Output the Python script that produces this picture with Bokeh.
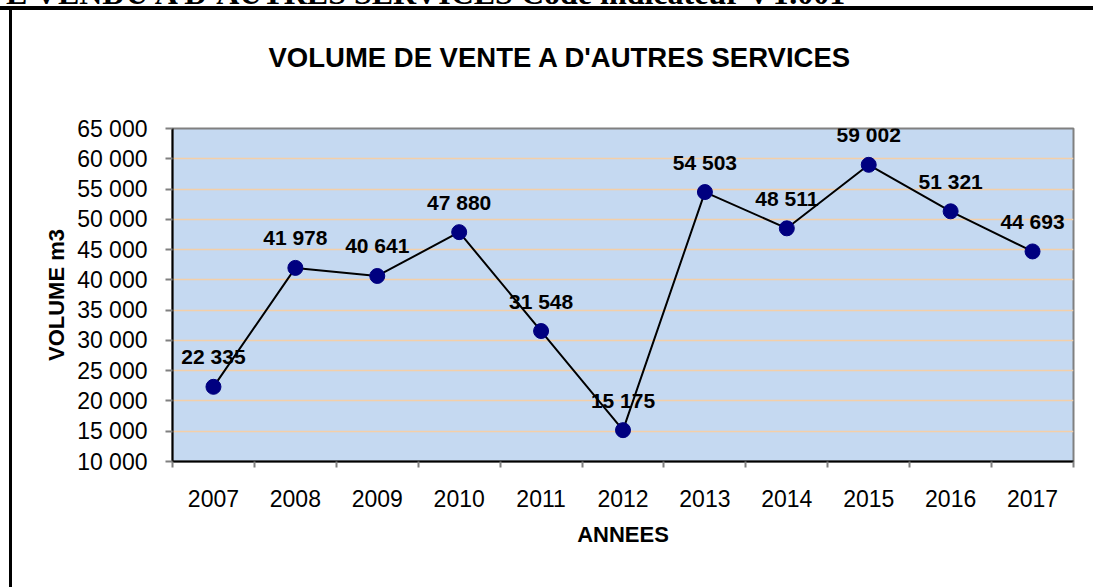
from bokeh.plotting import figure
from bokeh.models import (ColumnDataSource, FixedTicker, LabelSet, Range1d,
                          Div, Title)
from bokeh.layouts import column
from bokeh.core.properties import value
from bokeh.embed import file_html
from bokeh.resources import INLINE

# ---- data ----
years = ["2007", "2008", "2009", "2010", "2011", "2012",
         "2013", "2014", "2015", "2016", "2017"]
volumes = [22335, 41978, 40641, 47880, 31548, 15175,
           54503, 48511, 59002, 51321, 44693]
y_ticks = [10000, 15000, 20000, 25000, 30000, 35000, 40000,
           45000, 50000, 55000, 60000, 65000]

title_text = "VOLUME DE VENTE A D'AUTRES SERVICES"
header_text = "E VENDU A D'AUTRES SERVICES Code indicateur VT.001"
x_title = "ANNEES"
y_title = "VOLUME m3"

def fmt(v):
    return f"{v:,}".replace(",", " ")

PAGE_W = 1093
HEAD_H = 6
W, H = PAGE_W, 587 - HEAD_H
L, R, T, B = 172, 1073, 122, 455
n = len(years)
y0, y1 = y_ticks[0], y_ticks[-1]

FONT = "Liberation Sans"

# cropped header line of the source document (only its lower edge shows)
header = Div(
    text=(f'<div style="position:absolute;left:6px;top:-23px;'
          f'white-space:nowrap;font-family:\'Liberation Serif\';'
          f'font-size:32px;font-weight:bold;line-height:32px;color:black">'
          f'{header_text}</div>'),
    width=PAGE_W, height=HEAD_H,
    styles={"position": "relative", "overflow": "hidden",
            "height": f"{HEAD_H}px", "min-height": "0px",
            "padding": "0px", "margin": "0px"})

p = figure(width=W, height=H, output_backend="svg", toolbar_location=None,
           x_range=Range1d(0, n), y_range=Range1d(y0, y1),
           min_border_left=L, min_border_right=W - R,
           min_border_top=T, min_border_bottom=H - B,
           background_fill_color="#C5D9F1", border_fill_color=None,
           styles={"background-color": "white",
                   "background-image": "linear-gradient(#000,#000), linear-gradient(#000,#000)",
                   "background-size": "100% 4px, 3px 100%",
                   "background-position": "0 0, 9px 0",
                   "background-repeat": "no-repeat"})

p.outline_line_color = "#808080"
p.outline_line_width = 2

# empty spacer between frame and title (pushes the title upward)
p.add_layout(Title(text=" ", text_font_size="1px", standoff=52), "above")

# title (outermost)
p.title.text = title_text
p.title.align = "left"
p.title.vertical_align = "middle"
p.title.offset = 96
p.title.standoff = 0
p.title.text_font = FONT
p.title.text_font_size = "27.5px"
p.title.text_font_style = "bold"
p.title.text_color = "black"

xs = [i + 0.5 for i in range(n)]
src = ColumnDataSource(dict(x=xs, y=volumes, lab=[fmt(v) for v in volumes]))

# axes
xa = p.xaxis[0]
xa.ticker = FixedTicker(ticks=xs, minor_ticks=list(range(n + 1)))
xa.major_label_overrides = {x: yr for x, yr in zip(xs, years)}
xa.major_tick_line_color = None
xa.major_tick_out = 6
xa.minor_tick_out = 6
xa.minor_tick_in = 0
xa.minor_tick_line_color = "#808080"
xa.minor_tick_line_width = 2
xa.axis_line_color = "black"
xa.axis_line_width = 2
xa.major_label_text_font = FONT
xa.major_label_text_font_size = "23px"
xa.major_label_text_color = "black"
xa.major_label_standoff = 22
xa.axis_label = x_title
xa.axis_label_text_font = FONT
xa.axis_label_text_font_size = "22px"
xa.axis_label_text_font_style = "bold"
xa.axis_label_text_color = "black"
xa.axis_label_standoff = 12

ya = p.yaxis[0]
ya.ticker = FixedTicker(ticks=y_ticks, minor_ticks=[])
ya.major_label_overrides = {v: fmt(v) for v in y_ticks}
ya.major_tick_out = 7
ya.major_tick_in = 0
ya.major_tick_line_color = "#808080"
ya.major_tick_line_width = 2
ya.axis_line_color = "black"
ya.axis_line_width = 2
ya.major_label_text_font = FONT
ya.major_label_text_font_size = "23px"
ya.major_label_text_color = "black"
ya.major_label_standoff = 18
ya.axis_label = y_title
ya.axis_label_text_font = FONT
ya.axis_label_text_font_size = "22px"
ya.axis_label_text_font_style = "bold"
ya.axis_label_text_color = "black"
ya.axis_label_standoff = 5

p.xgrid.grid_line_color = None
p.ygrid.grid_line_color = "#F4CFA8"
p.ygrid.grid_line_width = 1.5

p.line("x", "y", source=src, line_color="black", line_width=2)
p.scatter("x", "y", source=src, size=15, fill_color="#000080",
          line_color="#000080")

labels = LabelSet(x="x", y="y", text="lab", source=src, y_offset=30,
                  text_align="center", text_baseline="middle",
                  text_font=value(FONT), text_font_size=value("21px"),
                  text_font_style="bold", text_color="black")
p.add_layout(labels)

layout = column(header, p, spacing=0)
open("out.html", "w").write(file_html(layout, INLINE))
